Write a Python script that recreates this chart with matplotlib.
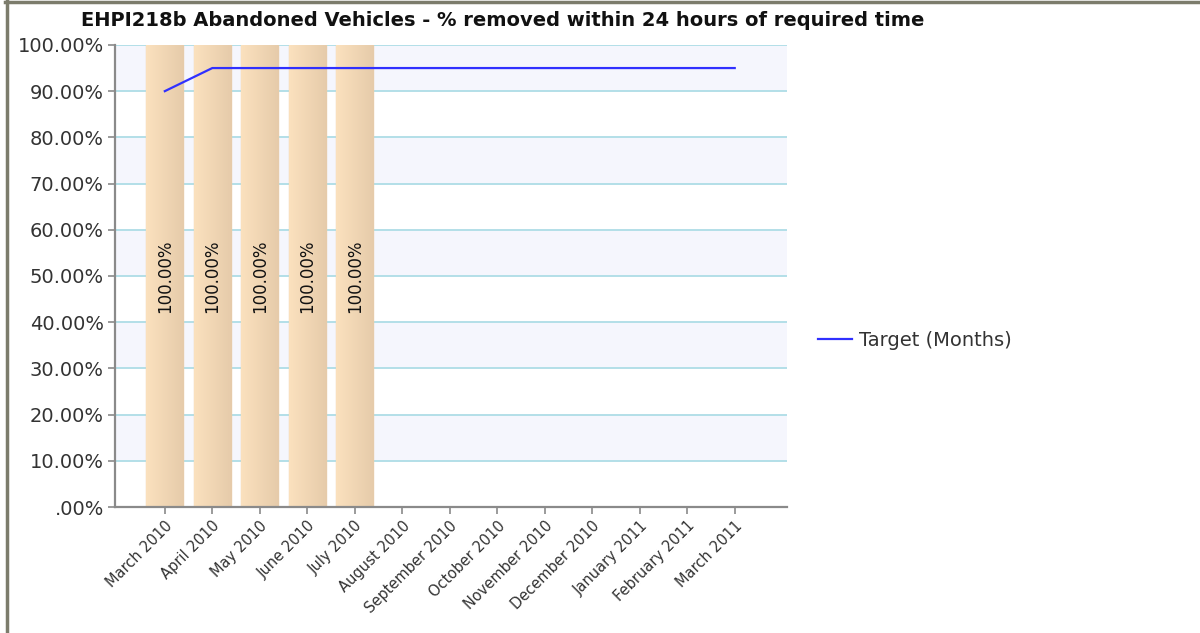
import numpy as np
import matplotlib.pyplot as plt
from matplotlib.ticker import FuncFormatter

months = ["March 2010", "April 2010", "May 2010", "June 2010", "July 2010",
          "August 2010", "September 2010", "October 2010", "November 2010",
          "December 2010", "January 2011", "February 2011", "March 2011"]
actual = [100.0, 100.0, 100.0, 100.0, 100.0]
target = [90, 95, 95, 95, 95, 95, 95, 95, 95, 95, 95, 95, 95]

title = "EHPI218b Abandoned Vehicles - % removed within 24 hours of required time"

plt.rcParams["font.family"] = ["DejaVu Sans"]

fig = plt.figure(figsize=(12, 6.33), dpi=100)
ax = fig.add_axes([0.0958, 0.199, 0.56, 0.73])

x = np.arange(len(months))
ax.set_xlim(-1.05, len(months) - 1 + 1.1)
ax.set_ylim(0, 100)

# alternating bands and grid lines
for lo in range(10, 100, 20):
    ax.axhspan(lo, lo + 10, color="#f5f6fd", zorder=0, lw=0)
for y in range(10, 101, 10):
    ax.axhline(y, color="#b3dfe8", lw=1.4, zorder=1)

# bars with a light-to-dark horizontal gradient
bars = ax.bar(x[:len(actual)], actual, width=0.78, color="#f7dcb8",
              edgecolor="#ecd0aa", lw=1, zorder=2)
grad = np.linspace(0, 1, 64).reshape(1, -1)
cmap = plt.matplotlib.colors.LinearSegmentedColormap.from_list(
    "peach", ["#fbe1be", "#e6cbaa"])
for b, v in zip(bars, actual):
    x0 = b.get_x()
    im = ax.imshow(grad, cmap=cmap, aspect="auto", zorder=2.5,
                   extent=(x0, x0 + b.get_width(), 0, b.get_height()))
    im.set_clip_path(b)
    ax.text(b.get_x() + b.get_width() / 2, v / 2, f"{v:.2f}%", rotation=90,
            ha="center", va="center", fontsize=12, color="#111111", zorder=4)

ax.plot(x, target, color="#3030ff", lw=1.6, zorder=3, label="Target (Months)")

ax.set_yticks(range(0, 101, 10))
ax.yaxis.set_major_formatter(FuncFormatter(
    lambda v, p: ".00%" if v == 0 else f"{v:.2f}%"))
ax.set_xticks(x)
ax.set_xticklabels(months, rotation=45, ha="right", rotation_mode="anchor")

for side in ["top", "right"]:
    ax.spines[side].set_visible(False)
for side in ["left", "bottom"]:
    ax.spines[side].set_color("#8a8a8a")
    ax.spines[side].set_linewidth(1.6)
ax.tick_params(axis="y", colors="#8a8a8a", labelcolor="#333333",
               labelsize=14, length=5, width=1.2, pad=3)
ax.tick_params(axis="x", colors="#8a8a8a", labelcolor="#333333",
               labelsize=10.5, length=5, width=1.2, pad=3)
ax.set_axisbelow(False)

fig.text(0.419, 0.968, title, ha="center", va="center",
         fontsize=14, fontweight="bold", color="#111111")

ax.legend(loc="center left", bbox_to_anchor=(1.02, 0.361), frameon=False,
          fontsize=14, handlelength=1.75, handletextpad=0.35,
          labelcolor="#333333")

# outer frame on top and left edges
fig.add_artist(plt.Line2D([0.004, 1], [0.9975, 0.9975],
                          transform=fig.transFigure, color="#7c7c6c", lw=2.5))
fig.add_artist(plt.Line2D([0.0055, 0.0055], [0, 1],
                          transform=fig.transFigure, color="#7c7c6c", lw=2.5))

fig.savefig("out.png", dpi=100)
